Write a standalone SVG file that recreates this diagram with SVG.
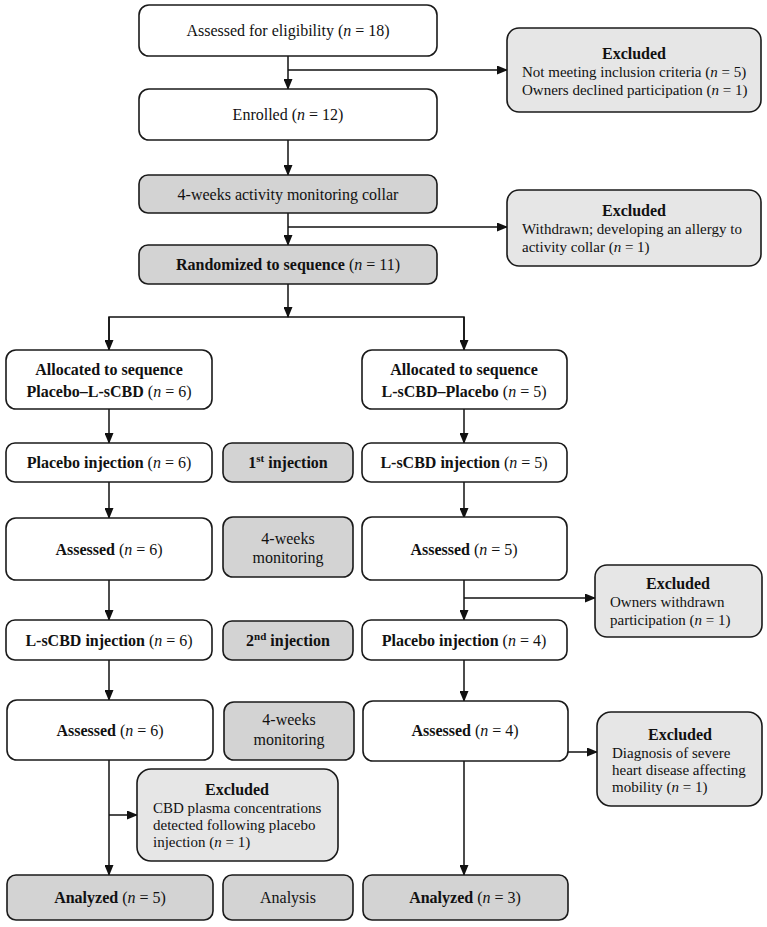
<svg xmlns="http://www.w3.org/2000/svg" width="767" height="927" viewBox="0 0 767 927">
<defs>
<marker id="ah" markerUnits="userSpaceOnUse" markerWidth="11" markerHeight="9" refX="10" refY="4.5" orient="auto">
<path d="M0,0 L11,4.5 L0,9 z" fill="#111"/>
</marker>
<style>
.box{stroke:#1a1a1a;stroke-width:1.6;}
.w{fill:#ffffff;}
.g{fill:#d3d3d3;}
.x{fill:#e6e6e6;}
text{font-family:"Liberation Serif","Times New Roman",serif;font-size:16px;fill:#111;}
.c{text-anchor:middle;}
.b{font-weight:bold;}
.i{font-style:italic;}
.s{font-size:15px;}
.con line,.con polyline{stroke:#111;stroke-width:1.5;fill:none;}
</style>
</defs>
<rect width="767" height="927" fill="#ffffff"/>

<g class="con">
<line x1="288" y1="56" x2="288" y2="89" marker-end="url(#ah)"/>
<line x1="288" y1="70" x2="507" y2="70" marker-end="url(#ah)"/>
<line x1="288" y1="140" x2="288" y2="175" marker-end="url(#ah)"/>
<line x1="288" y1="213" x2="288" y2="245" marker-end="url(#ah)"/>
<line x1="288" y1="227" x2="507" y2="227" marker-end="url(#ah)"/>
<line x1="288" y1="284" x2="288" y2="317" marker-end="url(#ah)"/>
<polyline points="109,350 109,317 464,317 464,350"/>
<line x1="109" y1="317" x2="109" y2="350" marker-end="url(#ah)"/>
<line x1="464" y1="317" x2="464" y2="350" marker-end="url(#ah)"/>
<line x1="109" y1="409" x2="109" y2="443" marker-end="url(#ah)"/>
<line x1="464" y1="409" x2="464" y2="443" marker-end="url(#ah)"/>
<line x1="109" y1="482" x2="109" y2="518" marker-end="url(#ah)"/>
<line x1="464" y1="482" x2="464" y2="518" marker-end="url(#ah)"/>
<line x1="109" y1="580" x2="109" y2="620" marker-end="url(#ah)"/>
<line x1="464" y1="580" x2="464" y2="620" marker-end="url(#ah)"/>
<line x1="464" y1="598" x2="595" y2="598" marker-end="url(#ah)"/>
<line x1="109" y1="660" x2="109" y2="700" marker-end="url(#ah)"/>
<line x1="464" y1="660" x2="464" y2="701" marker-end="url(#ah)"/>
<line x1="567" y1="752" x2="597" y2="752" marker-end="url(#ah)"/>
<line x1="109" y1="760" x2="109" y2="875" marker-end="url(#ah)"/>
<line x1="109" y1="815" x2="137" y2="815" marker-end="url(#ah)"/>
<line x1="464" y1="761" x2="464" y2="875" marker-end="url(#ah)"/>
</g>

<g id="eligibility">
<rect class="box w" x="139" y="5" width="298" height="51" rx="10"/>
<text class="c" x="288" y="36">Assessed for eligibility (<tspan class="i">n</tspan> = 18)</text>
</g>
<g id="excluded1">
<rect class="box x" x="507" y="28" width="254" height="84" rx="12"/>
<text class="c b" x="634" y="59">Excluded</text>
<text class="s" x="522" y="77">Not meeting inclusion criteria (<tspan class="i">n</tspan> = 5)</text>
<text class="s" x="522" y="95">Owners declined participation (<tspan class="i">n</tspan> = 1)</text>
</g>
<g id="enrolled">
<rect class="box w" x="139" y="89" width="298" height="51" rx="10"/>
<text class="c" x="288" y="120">Enrolled (<tspan class="i">n</tspan> = 12)</text>
</g>
<g id="collar">
<rect class="box g" x="139" y="175" width="298" height="38" rx="9"/>
<text class="c" x="288" y="199.5">4-weeks activity monitoring collar</text>
</g>
<g id="excluded2">
<rect class="box x" x="507" y="190" width="254" height="76" rx="12"/>
<text class="c b" x="634" y="216">Excluded</text>
<text class="s" x="522" y="234">Withdrawn; developing an allergy to</text>
<text class="s" x="522" y="252">activity collar (<tspan class="i">n</tspan> = 1)</text>
</g>
<g id="randomized">
<rect class="box g" x="139" y="245" width="298" height="39" rx="9"/>
<text class="c" x="288" y="270"><tspan class="b">Randomized to sequence</tspan> (<tspan class="i">n</tspan> = 11)</text>
</g>

<g id="alloc-left">
<rect class="box w" x="6" y="350" width="206" height="59" rx="10"/>
<text class="c b" x="109" y="375">Allocated to sequence</text>
<text class="c" x="109" y="397"><tspan class="b">Placebo–L-sCBD</tspan> (<tspan class="i">n</tspan> = 6)</text>
</g>
<g id="alloc-right">
<rect class="box w" x="362" y="350" width="205" height="59" rx="10"/>
<text class="c b" x="464" y="375">Allocated to sequence</text>
<text class="c" x="464" y="397"><tspan class="b">L-sCBD–Placebo</tspan> (<tspan class="i">n</tspan> = 5)</text>
</g>

<g id="placebo-inj-left">
<rect class="box w" x="6" y="443" width="206" height="39" rx="9"/>
<text class="c" x="109" y="468"><tspan class="b">Placebo injection</tspan> (<tspan class="i">n</tspan> = 6)</text>
</g>
<g id="first-injection">
<rect class="box g" x="223" y="443" width="130" height="39" rx="9"/>
<text class="c b" x="288" y="468">1<tspan font-size="11" dy="-6">st</tspan><tspan dy="6"> injection</tspan></text>
</g>
<g id="lscbd-inj-right">
<rect class="box w" x="362" y="443" width="205" height="39" rx="9"/>
<text class="c" x="464" y="468"><tspan class="b">L-sCBD injection</tspan> (<tspan class="i">n</tspan> = 5)</text>
</g>

<g id="assessed-left-1">
<rect class="box w" x="6" y="518" width="206" height="62" rx="10"/>
<text class="c" x="109" y="554.5"><tspan class="b">Assessed</tspan> (<tspan class="i">n</tspan> = 6)</text>
</g>
<g id="monitoring-1">
<rect class="box g" x="223" y="517" width="130" height="60" rx="10"/>
<text class="c" x="288" y="544">4-weeks</text>
<text class="c" x="288" y="563">monitoring</text>
</g>
<g id="assessed-right-1">
<rect class="box w" x="362" y="517" width="205" height="63" rx="10"/>
<text class="c" x="464" y="554.5"><tspan class="b">Assessed</tspan> (<tspan class="i">n</tspan> = 5)</text>
</g>
<g id="excluded3">
<rect class="box x" x="595" y="565" width="167" height="72" rx="12"/>
<text class="c b" x="678" y="589">Excluded</text>
<text class="s" x="610" y="607">Owners withdrawn</text>
<text class="s" x="610" y="625">participation (<tspan class="i">n</tspan> = 1)</text>
</g>

<g id="lscbd-inj-left">
<rect class="box w" x="6" y="620" width="206" height="40" rx="9"/>
<text class="c" x="109" y="645.5"><tspan class="b">L-sCBD injection</tspan> (<tspan class="i">n</tspan> = 6)</text>
</g>
<g id="second-injection">
<rect class="box g" x="223" y="621" width="130" height="39" rx="9"/>
<text class="c b" x="288" y="646">2<tspan font-size="11" dy="-6">nd</tspan><tspan dy="6"> injection</tspan></text>
</g>
<g id="placebo-inj-right">
<rect class="box w" x="362" y="620" width="205" height="40" rx="9"/>
<text class="c" x="464" y="645.5"><tspan class="b">Placebo injection</tspan> (<tspan class="i">n</tspan> = 4)</text>
</g>

<g id="assessed-left-2">
<rect class="box w" x="7" y="700" width="206" height="60" rx="10"/>
<text class="c" x="110" y="735.5"><tspan class="b">Assessed</tspan> (<tspan class="i">n</tspan> = 6)</text>
</g>
<g id="monitoring-2">
<rect class="box g" x="224" y="702" width="130" height="58" rx="10"/>
<text class="c" x="289" y="725">4-weeks</text>
<text class="c" x="289" y="745">monitoring</text>
</g>
<g id="assessed-right-2">
<rect class="box w" x="363" y="701" width="205" height="60" rx="10"/>
<text class="c" x="465" y="735.5"><tspan class="b">Assessed</tspan> (<tspan class="i">n</tspan> = 4)</text>
</g>
<g id="excluded4">
<rect class="box x" x="597" y="712" width="165" height="94" rx="14"/>
<text class="c b" x="680" y="740">Excluded</text>
<text class="s" x="612" y="758">Diagnosis of severe</text>
<text class="s" x="612" y="775">heart disease affecting</text>
<text class="s" x="612" y="792">mobility (<tspan class="i">n</tspan> = 1)</text>
</g>
<g id="excluded5">
<rect class="box x" x="137" y="769" width="201" height="92" rx="14"/>
<text class="c b" x="237" y="795">Excluded</text>
<text class="s" x="153" y="813">CBD plasma concentrations</text>
<text class="s" x="153" y="830">detected following placebo</text>
<text class="s" x="153" y="847">injection (<tspan class="i">n</tspan> = 1)</text>
</g>

<g id="analyzed-left">
<rect class="box g" x="7" y="875" width="206" height="45" rx="9"/>
<text class="c" x="110" y="903"><tspan class="b">Analyzed</tspan> (<tspan class="i">n</tspan> = 5)</text>
</g>
<g id="analysis">
<rect class="box g" x="223" y="875" width="130" height="45" rx="9"/>
<text class="c" x="288" y="903">Analysis</text>
</g>
<g id="analyzed-right">
<rect class="box g" x="363" y="875" width="205" height="45" rx="9"/>
<text class="c" x="465" y="903"><tspan class="b">Analyzed</tspan> (<tspan class="i">n</tspan> = 3)</text>
</g>
</svg>
